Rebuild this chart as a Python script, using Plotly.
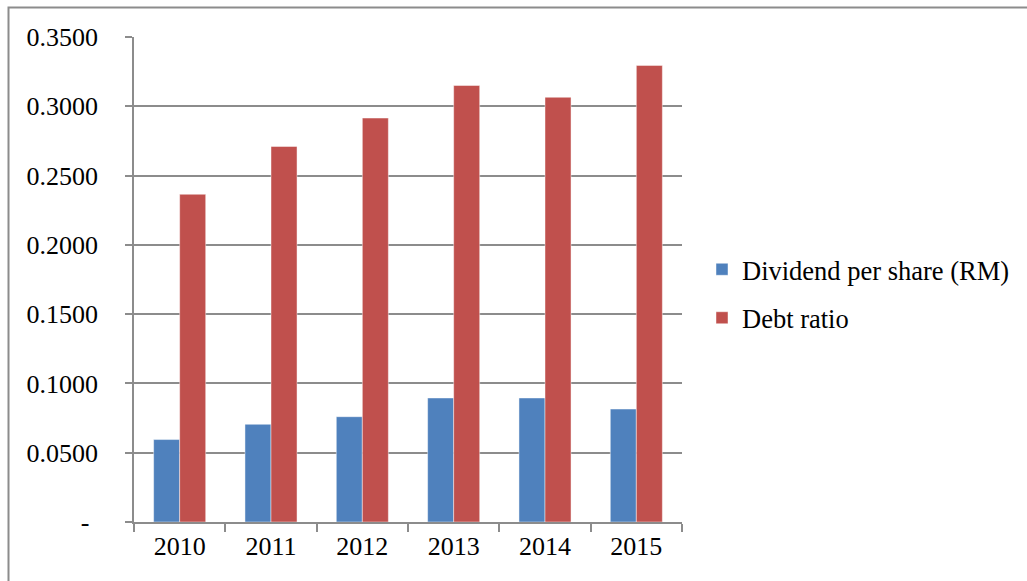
import plotly.graph_objects as go

years = ["2010", "2011", "2012", "2013", "2014", "2015"]
dividend_per_share = [0.0595, 0.0705, 0.0760, 0.0895, 0.0895, 0.0815]
debt_ratio = [0.2365, 0.2710, 0.2915, 0.3150, 0.3065, 0.3295]
y_tickvals = [0, 0.05, 0.10, 0.15, 0.20, 0.25, 0.30, 0.35]
y_ticktext = ["-\u2004", "0.0500", "0.1000", "0.1500", "0.2000", "0.2500", "0.3000", "0.3500"]

FONT = "Liberation Serif, Times New Roman, serif"
GRID = "#8c8c8c"

L, R, T, B = 134, 345, 37, 59
W, H = 1027, 581
plot_w = W - L - R
plot_h = H - T - B

fig = go.Figure()
fig.add_trace(go.Bar(
    x=years, y=dividend_per_share, name="Dividend per share (RM)",
    marker=dict(color="#4F81BD", line=dict(color="rgba(255,255,255,0.45)", width=1)),
    legendgroup="a",
))
fig.add_trace(go.Bar(
    x=years, y=debt_ratio, name="Debt ratio",
    marker=dict(color="#C0504D", line=dict(color="rgba(255,255,255,0.45)", width=1)),
    legendgroup="b",
))

top_y = (H - B - 7.5) / plot_h
left_x = (8.5 - L) / plot_w

fig.update_layout(
    width=W, height=H,
    margin=dict(l=L, r=R, t=T, b=B),
    paper_bgcolor="white", plot_bgcolor="white",
    barmode="group", bargap=0.43, bargroupgap=0,
    font=dict(family=FONT, size=26, color="black"),
    showlegend=True,
    legend=dict(
        x=(702 - L) / plot_w, y=0.471, xanchor="left", yanchor="middle",
        font=dict(family=FONT, size=26.5, color="black"),
        traceorder="grouped", tracegroupgap=11,
        bgcolor="rgba(0,0,0,0)",
    ),
    xaxis=dict(
        type="category", showgrid=False,
        showline=True, linecolor=GRID, linewidth=1.5,
        ticks="outside", tickson="boundaries", ticklen=8, tickcolor=GRID, tickwidth=1.5,
        tickfont=dict(family=FONT, size=26, color="black"),
    ),
    yaxis=dict(
        range=[0, 0.35], tickvals=y_tickvals, ticktext=y_ticktext,
        showgrid=True, gridcolor=GRID, gridwidth=1.5,
        showline=True, linecolor=GRID, linewidth=1.5,
        ticks="outside", ticklen=7, tickcolor=GRID, tickwidth=1.5,
        ticklabelstandoff=22,
        tickfont=dict(family=FONT, size=26, color="black"),
        zeroline=False,
    ),
    shapes=[
        dict(type="rect", xref="paper", yref="paper",
             x0=left_x, x1=(W + 20 - L) / plot_w,
             y0=-(B + 20) / plot_h, y1=top_y,
             line=dict(color=GRID, width=2), fillcolor="rgba(0,0,0,0)", layer="above"),
    ],
)

fig.write_html("out.html")
